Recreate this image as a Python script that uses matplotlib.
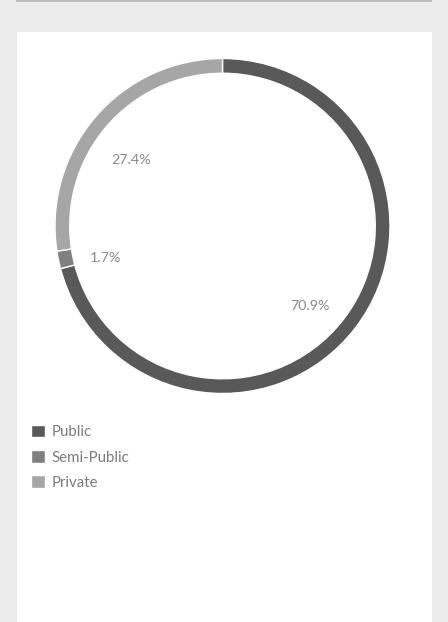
import matplotlib.pyplot as plt
from matplotlib.patches import Rectangle
from matplotlib.transforms import offset_copy

categories = ["Public", "Semi-Public", "Private"]
shares = [70.9, 1.7, 27.4]
colors = ["#595959", "#808080", "#a6a6a6"]

W, H = 448, 622
fig = plt.figure(figsize=(W / 100, H / 100), dpi=100)
fig.patch.set_facecolor("#ececec")

# white card and grey strip at the top
fig.patches.append(Rectangle((17 / W, 0), 415 / W, (H - 32) / H,
                             transform=fig.transFigure, facecolor="white",
                             edgecolor="none", zorder=-2))
fig.patches.append(Rectangle((16 / W, (H - 2) / H), 416 / W, 2 / H,
                             transform=fig.transFigure, facecolor="#bdbdbd",
                             edgecolor="none", zorder=-2))

cx, cy, r = 222.5, 226, 167.5
ax = fig.add_axes([(cx - r) / W, (H - cy - r) / H, 2 * r / W, 2 * r / H])
ax.set_zorder(1)
wedges, texts, autotexts = ax.pie(
    shares, colors=colors, startangle=90, counterclock=False,
    autopct="%.1f%%", pctdistance=0.69,
    wedgeprops=dict(width=0.088, edgecolor="white", linewidth=1),
    textprops=dict(color="#8a8a8a", fontsize=10.3, family="Lato"))
ax.set_xlim(-1, 1)
ax.set_ylim(-1, 1)
ax.set_aspect("equal")
ax.axis("off")

# labels sit a little lower than the wedge midpoints in the original
shift = offset_copy(ax.transData, fig=fig, x=-4, y=-9, units="dots")
for t in autotexts:
    t.set_transform(shift)

leg = fig.legend(wedges, categories, loc="upper left",
                 bbox_to_anchor=(25 / W, (H - 419) / H), frameon=False,
                 handlelength=0.9, handleheight=0.9, handletextpad=0.45,
                 labelspacing=0.72, borderaxespad=0,
                 prop=dict(family="Lato", size=10.8), labelcolor="#7a7a7a")
leg.set_zorder(2)

fig.savefig("out.png", dpi=100, facecolor=fig.get_facecolor())
